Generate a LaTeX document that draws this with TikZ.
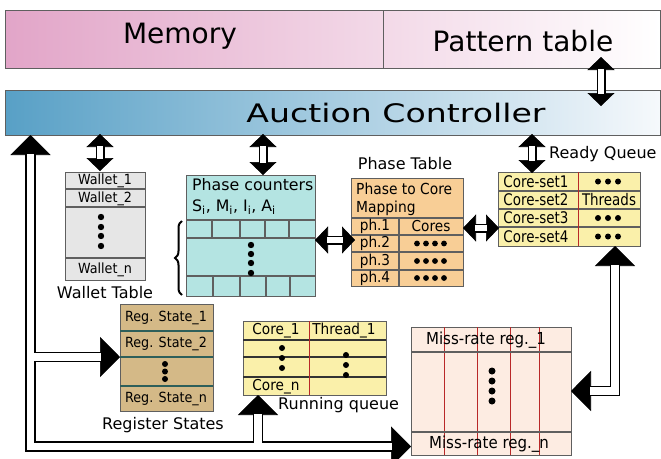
\documentclass[tikz,border=0pt]{standalone}
\usepackage{fontspec}
\setmainfont{DejaVu Sans}
\newfontfamily\wideface{DejaVu Sans}[FakeStretch=1.3]
\newfontfamily\tightface{DejaVu Sans}[FakeStretch=0.84]
\newfontfamily\slimface{DejaVu Sans}[FakeStretch=0.91]
\usetikzlibrary{arrows.meta,decorations.pathreplacing}

\definecolor{memPink}{RGB}{226,165,200}
\definecolor{ctrlBlue}{RGB}{88,160,198}
\definecolor{ctrlEnd}{RGB}{246,249,252}
\definecolor{walletGray}{RGB}{230,230,230}
\definecolor{phaseTeal}{RGB}{180,228,226}
\definecolor{mapOrange}{RGB}{248,206,150}
\definecolor{queueYellow}{RGB}{250,240,170}
\definecolor{missPeach}{RGB}{253,236,226}
\definecolor{regTan}{RGB}{212,185,135}
\definecolor{edgeGray}{RGB}{95,95,95}
\definecolor{colRed}{RGB}{185,40,40}
\definecolor{regLine}{RGB}{45,95,90}

\newcommand\fsz[1]{\fontsize{#1}{#1}\selectfont}

\tikzset{
  BigTip/.tip={Triangle[width=40pt,length=20pt]},
  SmallTip/.tip={Triangle[width=27pt,length=13pt]},
  box/.style={draw=edgeGray, line width=1.2pt, inner sep=0pt, anchor=north west},
  rowline/.style={draw=edgeGray, line width=1.2pt},
  darkrow/.style={draw=black!80, line width=1.1pt},
  redline/.style={draw=colRed, line width=0.9pt},
  cell/.style={inner sep=0pt, font=\slimface\fsz{14}},
  qcell/.style={inner sep=0pt, font=\tightface\fsz{16}},
  caption/.style={inner sep=0pt, font=\fsz{16}},
  core/.style={line width=0.6pt},
  bigshaft/.style={double=white, double distance=7.5pt, line width=1.5pt},
  smallshaft/.style={double=white, double distance=6pt, line width=1.5pt},
}

\begin{document}
\begin{tikzpicture}[x=1pt,y=-1pt]
\useasboundingbox (0,0) rectangle (661,458);

% ---------------- memory / pattern table bar
\shade[left color=memPink, right color=white] (5,10) rectangle (660,68);
\node[box, minimum width=378pt, minimum height=58pt] (mem) at (5,10) {};
\node[box, minimum width=277pt, minimum height=58pt] (pat) at (383,10) {};
\node[inner sep=0pt, font=\fsz{28}] (memText) at (180,36) {Memory};
\node[inner sep=0pt, font=\fsz{28}] (patText) at (523,41) {Pattern table};

% ---------------- auction controller
\node[box, minimum width=655pt, minimum height=45pt, left color=ctrlBlue, right color=ctrlEnd] (ac) at (5,90) {};
\node[inner sep=0pt, font=\wideface\fsz{25.5}] (acText) at (396,113) {Auction Controller};

% ---------------- wallet table
\node[box, fill=walletGray, minimum width=80pt, minimum height=108pt] (wal) at (65,172) {};
\draw[rowline] (65,189) -- (145,189) (65,207) -- (145,207) (65,258) -- (145,258);
\node[cell] (w1) at (105,181) {Wallet\_1};
\node[cell] (w2) at (105,198.5) {Wallet\_2};
\node[cell] (wn) at (105,269.5) {Wallet\_n};
\foreach \yy in {217,227,236,246} \fill (101,\yy) circle (3.2pt);
\node[caption] (walCap) at (105,293) {Wallet Table};

% ---------------- phase counters
\node[box, fill=phaseTeal, minimum width=129pt, minimum height=121pt] (pc) at (186,175) {};
\node[inner sep=0pt, anchor=west, font=\fsz{15.8}] (pcTitle) at (192,185) {Phase counters};
\node[inner sep=0pt, anchor=west, font=\fsz{15.8}] (pcVars) at (192,207)
  {S\textsubscript{i}, M\textsubscript{i}, I\textsubscript{i}, A\textsubscript{i}};
\draw[rowline] (186,220) -- (315,220) (186,238) -- (315,238) (186,276) -- (315,276);
\draw[rowline] (212,220) -- (212,238) (240,220) -- (240,238) (265,220) -- (265,238) (289,220) -- (289,238);
\draw[rowline] (213,276) -- (213,296) (240,276) -- (240,296) (266,276) -- (266,296) (290,276) -- (290,296);
\foreach \yy in {245,254,263,273} \fill (251,\yy) circle (3.2pt);
\draw[decorate, decoration={brace, amplitude=7pt}, line width=2pt] (182,295) -- (182,221);

% ---------------- phase table
\node[caption] (ptCap) at (405,164) {Phase Table};
\node[box, fill=mapOrange, minimum width=112pt, minimum height=108pt] (ptab) at (351,178) {};
\draw[rowline] (351,218) -- (463,218) (351,235) -- (463,235) (351,252) -- (463,252) (351,270) -- (463,270);
\draw[rowline] (399,218) -- (399,286);
\node[inner sep=0pt, anchor=west, font=\slimface\fsz{15.2}] (mapA) at (356,189) {Phase to Core};
\node[inner sep=0pt, anchor=west, font=\slimface\fsz{15.2}] (mapB) at (356,208) {Mapping};
\node[cell, font=\slimface\fsz{15}] (ph1) at (375,226.5) {ph.1};
\node[cell, font=\slimface\fsz{15}] (ph2) at (375,243.5) {ph.2};
\node[cell, font=\slimface\fsz{15}] (ph3) at (375,261) {ph.3};
\node[cell, font=\slimface\fsz{15}] (ph4) at (375,278) {ph.4};
\node[cell, font=\slimface\fsz{15}] (cores) at (431,226.5) {Cores};
\foreach \yy in {243.5,261,278}
  \foreach \xx in {417,426,435,444} \fill (\xx,\yy) circle (2.9pt);

% ---------------- ready queue
\node[caption, anchor=west] (rqCap) at (549,154) {Ready Queue};
\node[box, fill=queueYellow, minimum width=142pt, minimum height=74pt] (rq) at (498,172) {};
\draw[rowline] (498,191) -- (640,191) (498,209) -- (640,209) (498,227) -- (640,227);
\draw[redline] (578,172) -- (578,246);
\node[qcell] (cs1) at (536,181.5) {Core-set1};
\node[qcell] (cs2) at (536,200) {Core-set2};
\node[qcell] (cs3) at (536,218) {Core-set3};
\node[qcell] (cs4) at (536,236.5) {Core-set4};
\node[qcell] (thr) at (609,200) {Threads};
\foreach \yy in {181.5,218,236.5}
  \foreach \xx in {598,608,618} \fill (\xx,\yy) circle (3pt);

% ---------------- register states
\node[box, fill=regTan, minimum width=93pt, minimum height=107pt] (reg) at (120,304) {};
\draw[draw=regLine, line width=1.1pt] (120,331) -- (213,331) (120,357) -- (213,357) (120,386) -- (213,386);
\node[cell] (r1) at (166,317.5) {Reg. State\_1};
\node[cell] (r2) at (166,344) {Reg. State\_2};
\node[cell] (rn) at (166,398.5) {Reg. State\_n};
\foreach \yy in {364,371.5,379} \fill (165,\yy) circle (3pt);
\node[caption] (regCap) at (163,425) {Register States};

% ---------------- running queue
\node[box, fill=queueYellow, minimum width=143pt, minimum height=74pt] (run) at (243,321) {};
\draw[darkrow] (243,340) -- (386,340) (243,357) -- (386,357) (243,377) -- (386,377);
\draw[redline] (309,321) -- (309,395);
\node[cell, font=\slimface\fsz{15}] (c1) at (276,331) {Core\_1};
\node[cell, font=\slimface\fsz{15}] (t1) at (344,331) {Thread\_1};
\node[cell, font=\slimface\fsz{15}] (cn) at (276,386.5) {Core\_n};
\foreach \yy in {348,358,368} \fill (282,\yy) circle (3pt);
\foreach \yy in {355,365,375} \fill (346,\yy) circle (3pt);
\node[caption, anchor=west] (runCap) at (278,405) {Running queue};

% ---------------- miss-rate registers
\node[box, fill=missPeach, minimum width=160pt, minimum height=128pt] (mr) at (411,327) {};
\draw[redline] (444,327) -- (444,455) (477,327) -- (477,455) (510,327) -- (510,455) (539,327) -- (539,455);
\draw[rowline] (411,352) -- (571,352) (411,432) -- (571,432);
\node[inner sep=0pt, font=\slimface\fsz{16.5}] (mr1) at (486,340) {Miss-rate reg.\_1};
\node[inner sep=0pt, font=\slimface\fsz{16.5}] (mrn) at (489,444) {Miss-rate reg.\_n};
\foreach \yy in {371,381,391,401} \fill (492,\yy) circle (3.5pt);

% ---------------- connector end points
\coordinate (patLow) at (601,57);
\coordinate (acHigh) at (601,106);
\coordinate (acW) at (100,134);
\coordinate (walTop) at (100,171);
\coordinate (acP) at (263,134);
\coordinate (pcTop) at (263,175);
\coordinate (acR) at (532,134);
\coordinate (rqTop) at (532,173);
\coordinate (pcEast) at (315,240);
\coordinate (ptWest) at (355,240);
\coordinate (ptEast) at (463,228);
\coordinate (rqWest) at (499,228);
\coordinate (acLeft) at (30.5,135);
\coordinate (mrWest) at (411,446.5);
\coordinate (trunkReg) at (34.25,357);
\coordinate (regWest) at (120,357);
\coordinate (trunkRun) at (258,442.75);
\coordinate (runSouth) at (258,395);
\coordinate (mrEast) at (571,391);
\coordinate (rqSouth) at (615,246);

% ---------------- short two-way links
\foreach \a/\b in {patLow/acHigh, acW/walTop, acP/pcTop, acR/rqTop, pcEast/ptWest, ptEast/rqWest} {
  \draw[core, SmallTip-SmallTip] (\a) -- (\b);
  \draw[smallshaft, shorten <=12pt, shorten >=12pt] (\a) -- (\b);
}

% ---------------- long routed links
\draw[core, BigTip-BigTip] (acLeft) |- (mrWest);
\draw[bigshaft, shorten <=19pt, shorten >=19pt] (acLeft) |- (mrWest);

\draw[core, -BigTip] (trunkReg) -- (regWest);
\draw[bigshaft, shorten >=19pt] (trunkReg) -- (regWest);

\draw[core, -BigTip] (trunkRun) -- (runSouth);
\draw[bigshaft, shorten >=19pt] (trunkRun) -- (runSouth);

\draw[core, BigTip-BigTip] (mrEast) -| (rqSouth);
\draw[bigshaft, shorten <=19pt, shorten >=19pt] (mrEast) -| (rqSouth);
\end{tikzpicture}
\end{document}
